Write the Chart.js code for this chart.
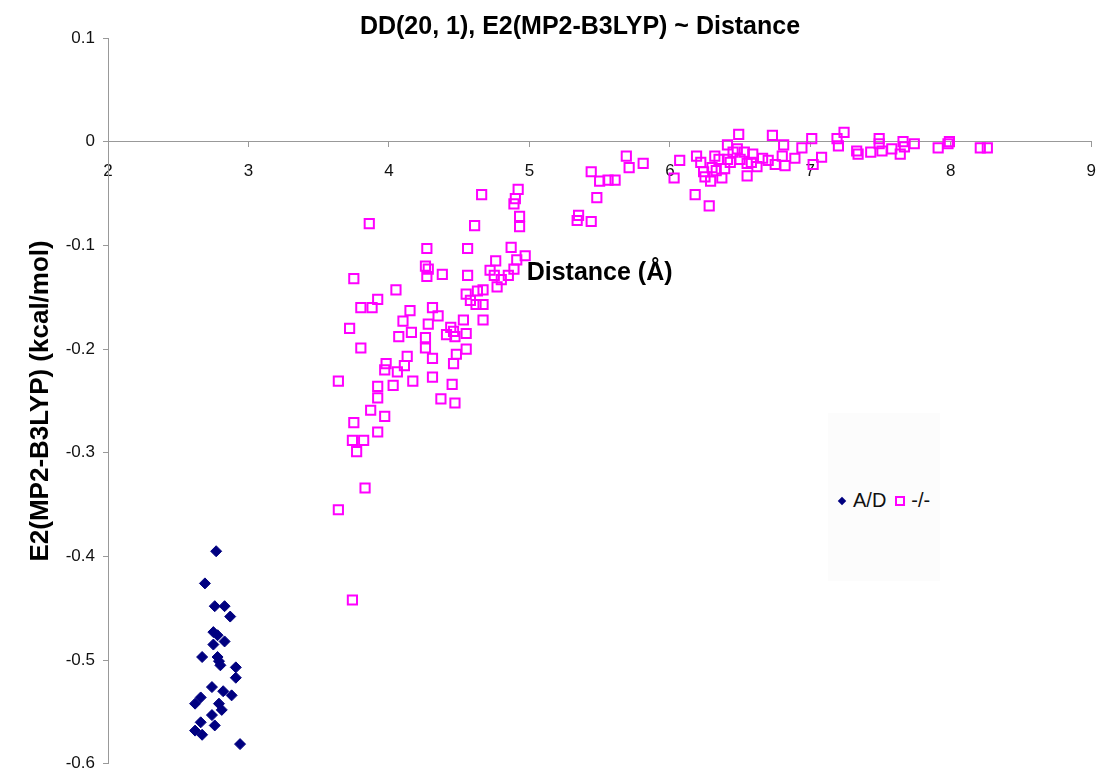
<!DOCTYPE html>
<html>
<head>
<meta charset="utf-8">
<script src="https://cdn.jsdelivr.net/npm/chart.js@4.4.1/dist/chart.umd.min.js"></script>
<style>
  body { margin: 0; background: #fff; }
  #wrap { position: relative; width: 1110px; height: 782px; }
  #legendBox { position: absolute; left: 828px; top: 413px; width: 112px; height: 168px; background: #fcfcfc; }
  #legend { position: absolute; left: 836px; top: 489px; font: 20px "Liberation Sans", Arial, sans-serif; color: #111;
            display: flex; align-items: center; white-space: nowrap; }
  .dia { width: 6px; height: 6px; background: #000080; transform: rotate(45deg); margin: 0 8px 0 3px; }
  .sq { width: 6px; height: 6px; border: 2px solid #ff00ff; margin: 0 6px 0 9px; }
</style>
</head>
<body>
<div id="wrap">
  <canvas id="myChart"></canvas>
  <div id="legendBox"></div>
  <div id="legend"></div>
</div>
<script>
// A/D series
var adDistance = [2.77,2.69,2.76,2.83,2.87,2.75,2.78,2.75,2.83,2.67,2.78,2.80,2.79,2.91,2.91,
                  2.74,2.82,2.88,2.66,2.62,2.79,2.81,2.74,2.66,2.76,2.62,2.67,2.94];
var adEnergy = [-0.395,-0.426,-0.448,-0.448,-0.458,-0.473,-0.476,-0.485,-0.482,-0.497,-0.497,-0.505,-0.501,-0.507,-0.517,
                -0.526,-0.530,-0.534,-0.536,-0.542,-0.542,-0.548,-0.553,-0.560,-0.563,-0.568,-0.572,-0.581];

// -/- series
var pairDistance = [3.64,3.64,3.72,3.74,3.74,3.75,3.75,3.77,3.80,3.80,3.82,3.83,3.86,3.87,3.88,3.92,3.92,3.92,3.92,3.97,
                    3.97,3.98,4.03,4.05,4.06,4.07,4.10,4.11,4.13,4.15,4.16,4.17,4.26,4.26,4.26,4.27,4.28,4.27,4.28,4.31,
                    4.31,4.31,4.35,4.37,4.38,4.41,4.44,4.45,4.46,4.46,4.47,4.47,4.48,4.53,4.55,4.55,4.55,4.56,4.56,4.58,
                    4.61,4.62,4.63,4.66,4.67,4.67,4.67,4.72,4.75,4.76,4.77,4.80,4.85,4.87,4.89,4.89,4.90,4.91,4.92,4.93,
                    4.93,4.97,5.34,5.35,5.44,5.44,5.48,5.50,5.56,5.61,5.69,5.71,5.81,6.03,6.07,6.18,6.19,6.22,6.24,6.25,
                    6.28,6.29,6.30,6.32,6.33,6.35,6.37,6.39,6.41,6.41,6.43,6.45,6.48,6.49,6.50,6.53,6.55,6.55,6.58,6.59,
                    6.62,6.66,6.70,6.73,6.75,6.80,6.81,6.82,6.89,6.94,7.01,7.02,7.08,7.19,7.20,7.24,7.33,7.34,7.43,7.49,
                    7.49,7.51,7.58,7.64,7.66,7.67,7.74,7.91,7.99,7.98,8.21,8.26];
var pairEnergy = [-0.231,-0.355,-0.180,-0.442,-0.288,-0.271,-0.132,-0.299,-0.160,-0.199,-0.288,-0.334,-0.079,-0.259,-0.160,-0.152,-0.236,-0.280,-0.247,-0.265,
                  -0.220,-0.214,-0.235,-0.143,-0.222,-0.188,-0.173,-0.216,-0.207,-0.163,-0.184,-0.231,-0.199,-0.189,-0.120,-0.103,-0.123,-0.130,-0.176,-0.160,
                  -0.209,-0.227,-0.168,-0.248,-0.128,-0.186,-0.179,-0.234,-0.214,-0.183,-0.188,-0.252,-0.205,-0.172,-0.147,-0.185,-0.200,-0.103,-0.129,-0.153,
                  -0.081,-0.157,-0.144,-0.051,-0.143,-0.172,-0.157,-0.124,-0.129,-0.115,-0.140,-0.133,-0.129,-0.102,-0.123,-0.060,-0.055,-0.114,-0.046,-0.072,
                  -0.082,-0.110,-0.076,-0.071,-0.077,-0.029,-0.054,-0.038,-0.037,-0.037,-0.014,-0.025,-0.021,-0.035,-0.018,-0.051,-0.014,-0.020,-0.029,-0.034,
                  -0.062,-0.038,-0.025,-0.014,-0.028,-0.017,-0.035,-0.026,-0.017,-0.003,-0.020,-0.010,-0.007,0.007,-0.017,-0.010,-0.021,-0.033,-0.020,-0.012,
                  -0.024,-0.016,-0.018,0.006,-0.022,-0.014,-0.003,-0.023,-0.016,-0.006,0.003,-0.022,-0.015,0.003,-0.004,0.009,-0.009,-0.012,-0.010,0.003,
                  -0.002,-0.009,-0.007,-0.012,0.000,-0.005,-0.002,-0.006,0.000,-0.002,-0.006,-0.006];

var seriesLabels = ["A/D", "-/-"];

function toPoints(xs, ys) {
  return xs.map(function (x, i) { return { x: x, y: ys[i] }; });
}

Chart.defaults.font.family = '"Liberation Sans", Arial, sans-serif';
Chart.defaults.color = "#000";

var ctx = document.getElementById("myChart");
var myChart = new Chart(ctx, {
  type: 'scatter',
  data: {
    datasets: [
      {
        label: seriesLabels[0],
        data: toPoints(adDistance, adEnergy),
        pointStyle: 'rectRot',
        pointRadius: 5.5,
        backgroundColor: "#000080",
        borderColor: "#000080",
        borderWidth: 1
      },
      {
        label: seriesLabels[1],
        data: toPoints(pairDistance, pairEnergy),
        pointStyle: 'rect',
        pointRadius: 6.5,
        backgroundColor: "rgba(255,255,255,0)",
        borderColor: "#ff00ff",
        borderWidth: 2
      }
    ]
  },
  options: {
    responsive: true,
    maintainAspectRatio: false,
    animation: false,
    layout: { padding: { left: 58, right: 8, top: 0, bottom: 13 } },
    plugins: {
      legend: { display: false },
      tooltip: { enabled: false },
      title: {
        display: true,
        text: "DD(20, 1), E2(MP2-B3LYP) ~ Distance",
        font: { size: 25, weight: 'bold' },
        color: "#000",
        padding: { top: 12, bottom: -4 }
      }
    },
    scales: {
      x: {
        type: 'linear',
        position: { y: 0 },
        min: 2, max: 9,
        ticks: { stepSize: 1, font: { size: 17 }, padding: 14, color: "#111" },
        grid: { drawOnChartArea: false, tickLength: 5, color: "#999" },
        border: { color: "#999" },
        title: {
          display: true,
          text: "Distance (Å)",
          font: { size: 25, weight: 'bold' },
          padding: { top: 63, bottom: 0 }
        }
      },
      y: {
        min: -0.6, max: 0.1,
        ticks: { stepSize: 0.1, font: { size: 17 }, padding: 8, color: "#111" },
        grid: { drawOnChartArea: false, tickLength: 5, color: "#999" },
        border: { color: "#999" },
        title: {
          display: true,
          text: "E2(MP2-B3LYP) (kcal/mol)",
          font: { size: 26, weight: 'bold' },
          padding: { top: -33, bottom: 0 }
        },
        afterFit: function (scale) { scale.width = 50; }
      }
    }
  }
});

// legend drawn beside the plot like the original
var lg = document.getElementById("legend");
lg.innerHTML = '<span class="dia"></span><span>' + seriesLabels[0] + '</span>' +
               '<span class="sq"></span><span>' + seriesLabels[1] + '</span>';
</script>
</body>
</html>
